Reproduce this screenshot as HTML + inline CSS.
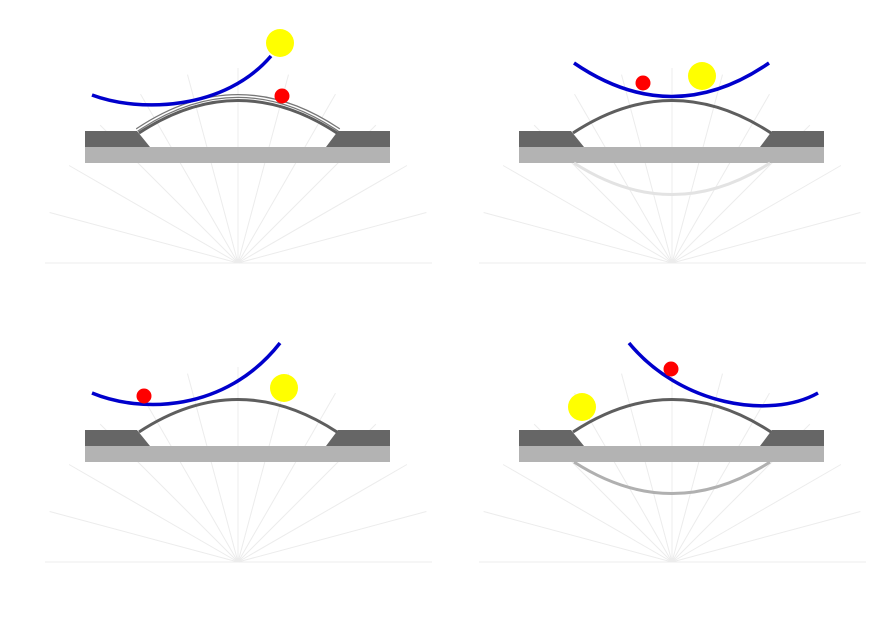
<!DOCTYPE html>
<html><head><meta charset="utf-8"><style>html,body{margin:0;padding:0;background:#fff}svg{display:block}</style></head>
<body>
<svg width="889" height="628" viewBox="0 0 889 628" xmlns="http://www.w3.org/2000/svg">
<defs>
<g id="base">
  <g stroke="#ececec" stroke-width="1" fill="none">
    <path d="M45,263 H432"/>
    <path d="M238,263 L49.6,212.5 M238,263 L69.1,165.5 M238,263 L100.1,125.1 M238,263 L140.5,94.1 M238,263 L187.5,74.6 M238,263 L238,68 M238,263 L288.5,74.6 M238,263 L335.5,94.1 M238,263 L375.9,125.1 M238,263 L406.9,165.5 M238,263 L426.4,212.5"/>
  </g>
  <rect x="85" y="147" width="305" height="16" fill="#b3b3b3"/>
  <polygon points="85,131 137,131 150,147 85,147" fill="#666"/>
  <polygon points="338,131 390,131 390,147 326,147" fill="#666"/>
</g>
<path id="arc" d="M139,133 Q238,68 337,133" fill="none" stroke="#5e5e5e" stroke-width="3"/>
</defs>

<!-- panel 1 -->
<use href="#base"/>
<path d="M137,130 Q238,62 339,130" fill="none" stroke="#777" stroke-width="4"/>
<path d="M137,130 Q238,62 339,130" fill="none" stroke="#fff" stroke-width="1.5"/>
<use href="#arc"/>
<path d="M92,95 C140,113 225,110 271,56" fill="none" stroke="#0000cc" stroke-width="3.5"/>
<circle cx="280" cy="43" r="14" fill="#ffff00"/>
<circle cx="282" cy="96" r="7.5" fill="#ff0000"/>

<!-- panel 2 -->
<g transform="translate(434,0)">
  <use href="#base"/>
  <path d="M140,163 Q238,226 336,163" fill="none" stroke="#e3e3e3" stroke-width="3"/>
  <use href="#arc"/>
</g>
<path d="M574,63 Q672,130 769,63" fill="none" stroke="#0000cc" stroke-width="3.5"/>
<circle cx="643" cy="83" r="7.5" fill="#ff0000"/>
<circle cx="702" cy="76" r="14" fill="#ffff00"/>

<!-- panel 3 -->
<g transform="translate(0,299)">
  <use href="#base"/>
  <use href="#arc"/>
</g>
<path d="M92,393 C140,413 225,413 280,343" fill="none" stroke="#0000cc" stroke-width="3.5"/>
<circle cx="144" cy="396" r="7.5" fill="#ff0000"/>
<circle cx="284" cy="388" r="14" fill="#ffff00"/>

<!-- panel 4 -->
<g transform="translate(434,299)">
  <use href="#base"/>
  <path d="M140,163 Q238,226 336,163" fill="none" stroke="#b0b0b0" stroke-width="3"/>
  <use href="#arc"/>
</g>
<path d="M629,343 C680,405 770,420 818,393" fill="none" stroke="#0000cc" stroke-width="3.5"/>
<circle cx="671" cy="369" r="7.5" fill="#ff0000"/>
<circle cx="582" cy="407" r="14" fill="#ffff00"/>
</svg>
</body></html>
